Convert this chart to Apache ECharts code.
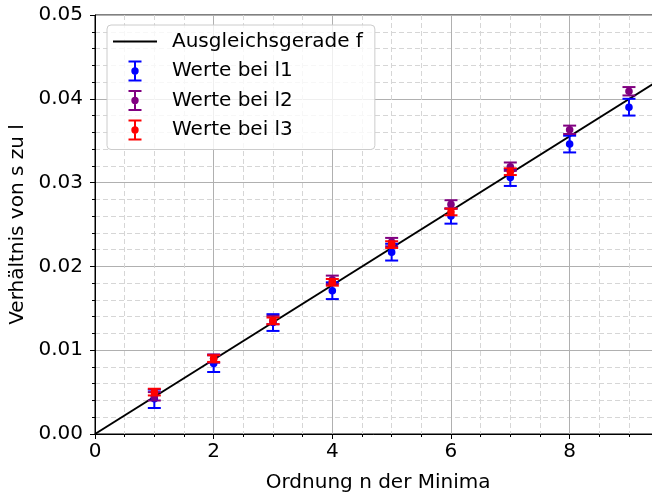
<!DOCTYPE html>
<html>
<head>
<meta charset="utf-8">
<script src="https://cdn.jsdelivr.net/npm/echarts@6/dist/echarts.min.js"></script>
<style>
html, body { margin: 0; padding: 0; background: #fff; }
#chart { width: 652px; height: 494px; }
</style>
</head>
<body>
<div id="chart"></div>
<script>
// Ordnung n der Minima
var orders = [1, 2, 3, 4, 5, 6, 7, 8, 9];
var ordersL3 = [1, 2, 3, 4, 5, 6, 7];

// Verhältnis s/l und Fehler
var valuesL1 = [0.0042, 0.0084, 0.0133, 0.0171, 0.0217, 0.0260, 0.0306, 0.0346, 0.0390];
var errorsL1 = [0.0011, 0.0010, 0.0010, 0.0010, 0.0010, 0.0009, 0.0010, 0.0010, 0.0010];
var valuesL2 = [0.0045, 0.0090, 0.0136, 0.0184, 0.0229, 0.0274, 0.0319, 0.0363, 0.0409];
var errorsL2 = [0.0005, 0.0005, 0.0005, 0.0005, 0.0005, 0.0005, 0.0005, 0.0005, 0.0005];
var valuesL3 = [0.0050, 0.0090, 0.0135, 0.0181, 0.0226, 0.0265, 0.0313];
var errorsL3 = [0.0004, 0.0004, 0.0004, 0.0004, 0.0004, 0.0004, 0.0004];

// Ausgleichsgerade f (Endpunkte)
var fitX = [0, 10];
var fitY = [0, 0.0444];

var seriesNames = ['Ausgleichsgerade f', 'Werte bei l1', 'Werte bei l2', 'Werte bei l3'];

var font = 'DejaVu Sans';
var fontSize = 20;

function zip3(a, b, c) {
	var out = [];
	for (var i = 0; i < a.length; i++) out.push([a[i], b[i], c[i]]);
	return out;
}

function errorItem(color) {
	return function (params, api) {
		var x = api.value(0), y = api.value(1), e = api.value(2);
		var c = api.coord([x, y]);
		var hi = api.coord([x, y + e]);
		var lo = api.coord([x, y - e]);
		var w = 6.5;
		var s = { stroke: color, lineWidth: 2 };
		return {
			type: 'group',
			children: [
				{ type: 'line', shape: { x1: c[0], y1: hi[1], x2: c[0], y2: lo[1] }, style: s },
				{ type: 'line', shape: { x1: c[0] - w, y1: hi[1], x2: c[0] + w, y2: hi[1] }, style: s },
				{ type: 'line', shape: { x1: c[0] - w, y1: lo[1], x2: c[0] + w, y2: lo[1] }, style: s },
				{ type: 'circle', shape: { cx: c[0], cy: c[1], r: 3.8 }, style: { fill: color } }
			]
		};
	};
}

function errSeries(name, color, xs, ys, es, z) {
	return {
		name: name,
		type: 'custom',
		renderItem: errorItem(color),
		itemStyle: { color: color },
		encode: { x: 0, y: 1 },
		data: zip3(xs, ys, es),
		z: z
	};
}

// legend icons (box 54 x 21, invisible corner dots keep the box size)
var corners = 'M0,0h0.01v0.01h-0.01Z M53.99,20.99h0.01v0.01h-0.01Z';
var lineIcon = 'path://' + corners + ' M0,9.5h44v2h-44Z';
var errIcon = 'path://' + corners +
	' M15.5,0h13v2h-13Z M21,0h2v21h-2Z M15.5,19h13v2h-13Z' +
	' M18.3,10.5a3.7,3.7 0 1,1 7.4,0a3.7,3.7 0 1,1 -7.4,0Z';

var myChart = echarts.init(document.getElementById('chart'));
var option = {
	animation: false,
	backgroundColor: '#fff',
	textStyle: { fontFamily: font, color: '#000' },
	grid: {
		left: 95,
		top: 15,
		width: 593.3,
		height: 419,
		outerBoundsMode: 'none',
		containLabel: false,
		show: true,
		borderColor: '#000',
		borderWidth: 1,
		backgroundColor: 'transparent'
	},
	legend: {
		left: 107,
		top: 25,
		orient: 'vertical',
		padding: [6, 12, 9, 6],
		itemGap: 8.5,
		itemWidth: 54,
		itemHeight: 21,
		backgroundColor: 'rgba(255,255,255,0.8)',
		borderColor: '#cccccc',
		borderWidth: 1,
		borderRadius: 4,
		itemStyle: { borderWidth: 0 },
		textStyle: { fontFamily: font, fontSize: fontSize, color: '#000' },
		data: [
			{ name: seriesNames[0], icon: lineIcon },
			{ name: seriesNames[1], icon: errIcon },
			{ name: seriesNames[2], icon: errIcon },
			{ name: seriesNames[3], icon: errIcon }
		]
	},
	xAxis: {
		type: 'value',
		min: 0,
		max: 10,
		interval: 2,
		name: 'Ordnung n der Minima',
		nameLocation: 'middle',
		nameGap: 39,
		nameTextStyle: { fontFamily: font, fontSize: fontSize, color: '#000', padding: [0, 27, 0, 0] },
		axisLine: { onZero: false, lineStyle: { color: '#000', width: 1 } },
		axisTick: { length: 5, lineStyle: { color: '#000', width: 1 } },
		minorTick: { show: true, splitNumber: 4, length: 3, lineStyle: { color: '#000', width: 1 } },
		axisLabel: { fontFamily: font, fontSize: fontSize, color: '#000', margin: 8, showMaxLabel: false },
		splitLine: { show: true, lineStyle: { color: '#b0b0b0', width: 1 } },
		minorSplitLine: { show: true, lineStyle: { color: '#d6d6d6', width: 1, type: [5, 3] } }
	},
	yAxis: {
		type: 'value',
		min: 0,
		max: 0.05,
		interval: 0.01,
		name: 'Verhältnis von s zu l',
		nameLocation: 'middle',
		nameRotate: 90,
		nameGap: 60,
		nameTextStyle: { fontFamily: font, fontSize: fontSize, color: '#000' },
		axisLine: { onZero: false, lineStyle: { color: '#000', width: 1 } },
		axisTick: { length: 5, lineStyle: { color: '#000', width: 1 } },
		minorTick: { show: true, splitNumber: 5, length: 3, lineStyle: { color: '#000', width: 1 } },
		axisLabel: {
			fontFamily: font, fontSize: fontSize, color: '#000', margin: 12,
			formatter: function (v) { return v.toFixed(2); }
		},
		splitLine: { show: true, lineStyle: { color: '#b0b0b0', width: 1 } },
		minorSplitLine: { show: true, lineStyle: { color: '#d6d6d6', width: 1, type: [5, 3] } }
	},
	series: [
		{
			name: seriesNames[0],
			type: 'line',
			data: [[fitX[0], fitY[0]], [fitX[1], fitY[1]]],
			showSymbol: false,
			symbol: 'none',
			itemStyle: { color: '#000' },
			lineStyle: { color: '#000', width: 2 },
			z: 2
		},
		errSeries(seriesNames[1], '#0000ff', orders, valuesL1, errorsL1, 3),
		errSeries(seriesNames[2], '#800080', orders, valuesL2, errorsL2, 4),
		errSeries(seriesNames[3], '#ff0000', ordersL3, valuesL3, errorsL3, 5)
	]
};
myChart.setOption(option);
</script>
</body>
</html>
